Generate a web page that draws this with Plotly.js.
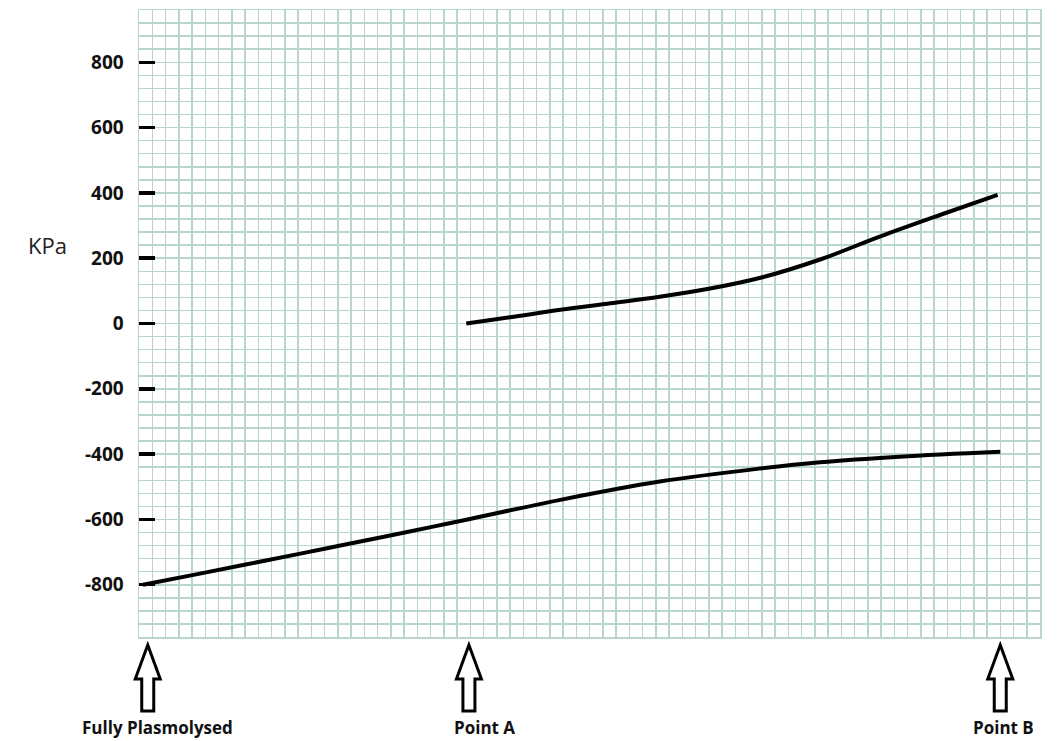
<!DOCTYPE html>
<html>
<head>
<meta charset="utf-8">
<script src="https://cdn.plot.ly/plotly-3.0.1.min.js"></script>
<style>
html,body{margin:0;padding:0;background:#fff;}
#chart{width:1061px;height:741px;}
</style>
</head>
<body>
<div id="chart"></div>
<script>
// ---- data ----
const upperX = [24.7, 28.0, 31.8, 35.6, 39.3, 43.1, 46.9, 51.4, 55.9, 60.5, 64.8];
const upperY = [0, 19, 42, 62, 82, 107, 140, 196, 266, 333, 394];
const lowerX = [0.3, 4.6, 11.9, 15.2, 18.4, 22.2, 24.7, 31.8, 39.3, 46.9, 51.4, 57.4, 65.0];
const lowerY = [-800, -766, -707, -680, -654, -622, -601, -540, -484, -444, -425, -408, -393];
const markerX = [0.66, 24.9, 65.0];
const markerLabels = ['Fully Plasmolysed', 'Point A', 'Point B'];
const yTicks = [-800, -600, -400, -200, 0, 200, 400, 600, 800];
const yTickLabels = ['-800', '-600', '-400', '-200', '0', '200', '400', '600', '800'];
const yUnit = 'KPa';

// ---- layout helpers ----
const xRange = [0, 68];
const yRange = [-960, 960];
const gridColor = 'rgb(184,214,203)';
const labelShift = [10, 16, 3];

const arrowPath = 'M 0 -8 L 12.5 -42 L 6 -42 L 6 -74 L -6 -74 L -6 -42 L -12.5 -42 Z';

const shapes = markerX.map(function (mx) {
  return {
    type: 'path',
    xref: 'paper', yref: 'paper',
    xsizemode: 'pixel', ysizemode: 'pixel',
    xanchor: (mx - xRange[0]) / (xRange[1] - xRange[0]),
    yanchor: 0,
    path: arrowPath,
    line: {color: '#000', width: 3},
    fillcolor: '#fff',
    layer: 'above'
  };
});

const annotations = markerX.map(function (mx, i) {
  return {
    x: mx, xref: 'x', y: 0, yref: 'paper',
    text: markerLabels[i], showarrow: false,
    xanchor: 'center', yanchor: 'middle',
    xshift: labelShift[i], yshift: -90,
    font: {family: 'Open Sans', size: 17, color: '#111', weight: 'bold'}
  };
});
annotations.push({
  x: -0.101, xref: 'paper', y: 240, yref: 'y',
  text: yUnit, showarrow: false, xanchor: 'center', yanchor: 'middle',
  font: {family: 'Open Sans', size: 22, color: '#222'}
});

const traces = [
  {x: lowerX, y: lowerY, mode: 'lines', line: {color: '#000', width: 4, shape: 'spline', smoothing: 1}, hoverinfo: 'skip'},
  {x: upperX, y: upperY, mode: 'lines', line: {color: '#000', width: 4, shape: 'spline', smoothing: 1}, hoverinfo: 'skip'}
];

const layout = {
  width: 1061, height: 741,
  margin: {l: 139, r: 21, t: 10, b: 104},
  paper_bgcolor: '#fff', plot_bgcolor: '#fff',
  showlegend: false,
  xaxis: {
    range: xRange, dtick: 1, tick0: 0,
    showgrid: true, gridcolor: gridColor, gridwidth: 1.5,
    showticklabels: false, ticks: '', zeroline: false,
    showline: true, linecolor: gridColor, linewidth: 1.5, mirror: true,
    fixedrange: true
  },
  yaxis: {
    range: yRange,
    tickmode: 'array', tickvals: yTicks, ticktext: yTickLabels,
    ticks: 'inside', ticklen: 16, tickwidth: 3.4, tickcolor: '#000',
    ticklabelstandoff: 10,
    tickfont: {family: 'Open Sans', size: 19, color: '#111', weight: 'bold'},
    showgrid: true, gridcolor: gridColor, gridwidth: 1.5,
    minor: {dtick: 40, tick0: 0, showgrid: true, gridcolor: gridColor, gridwidth: 1.5, ticks: ''},
    zeroline: false,
    showline: true, linecolor: gridColor, linewidth: 1.5, mirror: true,
    fixedrange: true
  },
  shapes: shapes,
  annotations: annotations
};

Plotly.newPlot('chart', traces, layout, {displayModeBar: false, staticPlot: true});
</script>
</body>
</html>
